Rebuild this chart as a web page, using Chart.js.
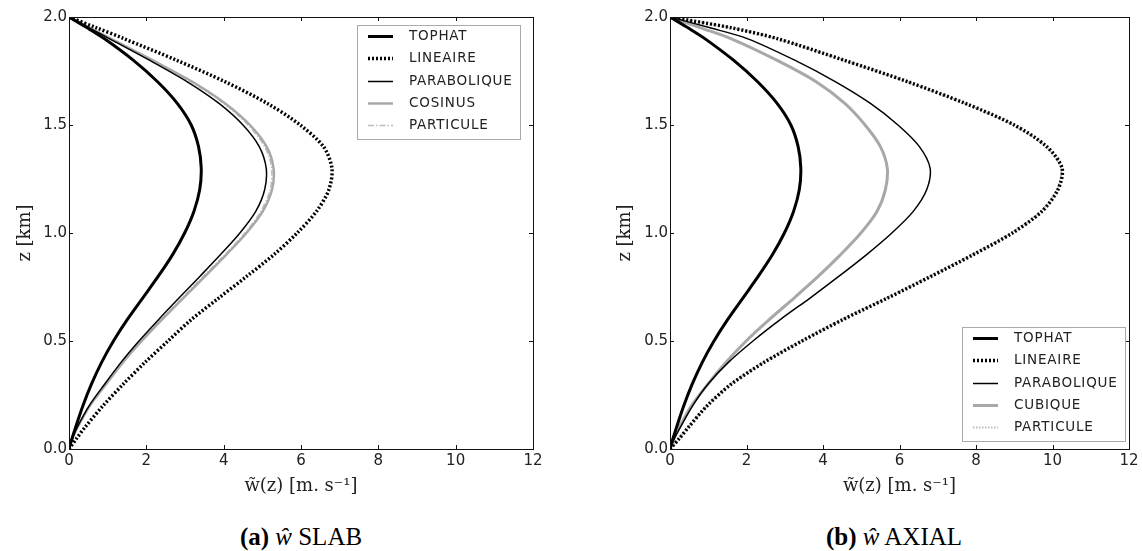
<!DOCTYPE html>
<html>
<head>
<meta charset="utf-8">
<script src="https://cdn.jsdelivr.net/npm/chart.js@4.4.1/dist/chart.umd.min.js"></script>
<style>
body { margin: 0; background: #fff; width: 1142px; height: 551px; position: relative; overflow: hidden; }
#slab { position: absolute; left: 0; top: 0; }
#axial { position: absolute; left: 600px; top: 0; }
.cap { position: absolute; top: 524px; font-family: "Liberation Serif", "DejaVu Serif", serif; font-size: 25px; line-height: 1; color: #000; transform: translateX(-50%); white-space: nowrap; }
</style>
</head>
<body>
<canvas id="slab" width="571" height="505"></canvas>
<canvas id="axial" width="542" height="505"></canvas>
<div class="cap" style="left:301px"><b>(a)</b> <i>ŵ</i> SLAB</div>
<div class="cap" style="left:894px"><b>(b)</b> <i>ŵ</i> AXIAL</div>
<script>
// altitude levels (km) shared by every profile
const zLevels = [0, 0.05, 0.1, 0.2, 0.3, 0.4, 0.5, 0.6, 0.7, 0.8, 0.9, 1.0, 1.1, 1.2, 1.3, 1.4, 1.5, 1.6, 1.7, 1.8, 1.9, 1.95, 2.0];

// (a) SLAB, w in m/s
const slabTophat      = [0, 0.08, 0.17, 0.36, 0.58, 0.84, 1.15, 1.51, 1.91, 2.31, 2.68, 2.99, 3.23, 3.38, 3.42, 3.35, 3.16, 2.80, 2.29, 1.66, 0.91, 0.47, 0];
const slabLineaire    = [0, 0.20, 0.41, 0.88, 1.40, 1.96, 2.56, 3.17, 3.88, 4.60, 5.30, 5.90, 6.40, 6.72, 6.80, 6.58, 5.98, 5.13, 4.04, 2.78, 1.42, 0.71, 0];
const slabParabolique = [0, 0.09, 0.21, 0.52, 0.92, 1.34, 1.81, 2.32, 2.85, 3.39, 3.92, 4.42, 4.83, 5.06, 5.10, 4.92, 4.50, 3.88, 3.06, 2.08, 1.04, 0.52, 0];
const slabCosinus     = [0, 0.09, 0.22, 0.54, 0.96, 1.39, 1.88, 2.41, 2.96, 3.52, 4.07, 4.59, 5.01, 5.25, 5.29, 5.11, 4.68, 4.04, 3.19, 2.16, 1.08, 0.54, 0];
const slabParticule   = [0, 0.09, 0.22, 0.53, 0.95, 1.37, 1.86, 2.38, 2.93, 3.48, 4.03, 4.55, 4.96, 5.20, 5.24, 5.06, 4.63, 4.00, 3.15, 2.13, 1.07, 0.53, 0];

// (b) AXIAL, w in m/s
const axialTophat      = [0, 0.08, 0.17, 0.36, 0.58, 0.84, 1.15, 1.51, 1.91, 2.31, 2.68, 2.99, 3.23, 3.38, 3.42, 3.35, 3.16, 2.80, 2.29, 1.66, 0.91, 0.47, 0];
const axialLineaire    = [0, 0.25, 0.48, 0.97, 1.60, 2.45, 3.45, 4.53, 5.70, 6.83, 7.93, 8.95, 9.72, 10.14, 10.25, 9.85, 9.00, 7.72, 6.22, 4.55, 2.80, 1.60, 0];
const axialParabolique = [0, 0.12, 0.27, 0.59, 0.99, 1.52, 2.17, 2.89, 3.67, 4.42, 5.14, 5.80, 6.36, 6.71, 6.80, 6.52, 5.96, 5.24, 4.33, 3.26, 2.02, 1.05, 0];
const axialCubique     = [0, 0.10, 0.24, 0.56, 0.99, 1.46, 1.99, 2.60, 3.25, 3.88, 4.46, 4.99, 5.41, 5.63, 5.68, 5.50, 5.10, 4.57, 3.82, 2.79, 1.59, 0.80, 0];
const axialParticule   = [0, 0.24, 0.47, 0.96, 1.58, 2.43, 3.43, 4.50, 5.67, 6.80, 7.90, 8.92, 9.69, 10.11, 10.22, 9.82, 8.97, 7.70, 6.20, 4.54, 2.79, 1.59, 0];

function series(label, values, color, width, dash) {
	return {
		label: label,
		data: zLevels.map(function(z, i) { return {x: values[i], y: z}; }),
		borderColor: color,
		borderWidth: width,
		borderDash: dash || [],
		borderCapStyle: 'butt',
		pointRadius: 0,
		showLine: true,
		fill: false,
		tension: 0.3
	};
}

// frame around the plot with matplotlib-style inward ticks
const frame = {
	id: 'frame',
	afterDatasetsDraw(chart) {
		const ctx = chart.ctx, a = chart.chartArea, sx = chart.scales.x, sy = chart.scales.y;
		ctx.save();
		ctx.strokeStyle = '#111';
		ctx.lineWidth = 1;
		ctx.strokeRect(Math.round(a.left) + 0.5, Math.round(a.top) + 0.5, Math.round(a.right - a.left), Math.round(a.bottom - a.top));
		ctx.beginPath();
		sx.ticks.forEach(function(t) {
			const p = Math.round(sx.getPixelForValue(t.value)) + 0.5;
			ctx.moveTo(p, a.bottom); ctx.lineTo(p, a.bottom - 4);
			ctx.moveTo(p, a.top); ctx.lineTo(p, a.top + 4);
		});
		sy.ticks.forEach(function(t) {
			const p = Math.round(sy.getPixelForValue(t.value)) + 0.5;
			ctx.moveTo(a.left, p); ctx.lineTo(a.left + 4, p);
			ctx.moveTo(a.right, p); ctx.lineTo(a.right - 4, p);
		});
		ctx.stroke();
		ctx.restore();
	}
};

// legend box drawn inside the plot
const boxLegend = {
	id: 'boxLegend',
	afterDraw(chart, args, opts) {
		const ctx = chart.ctx;
		const sets = chart.data.datasets;
		const x = opts.x, y = opts.y, w = 163, h = 114, row = 22.3;
		ctx.save();
		ctx.fillStyle = '#fff';
		ctx.strokeStyle = '#aaa';
		ctx.lineWidth = 1;
		ctx.fillRect(x, y, w, h);
		ctx.strokeRect(x + 0.5, y + 0.5, w, h);
		ctx.font = '13.5px "DejaVu Sans"';
		ctx.letterSpacing = '0.8px';
		ctx.textBaseline = 'middle';
		sets.forEach(function(ds, i) {
			const ly = Math.round(y + 11 + i * row) + 0.5;
			ctx.beginPath();
			ctx.strokeStyle = ds.borderColor;
			ctx.lineWidth = ds.borderWidth;
			ctx.setLineDash(ds.borderDash);
			ctx.moveTo(x + 11, ly);
			ctx.lineTo(x + 36, ly);
			ctx.stroke();
			ctx.setLineDash([]);
			ctx.fillStyle = '#222';
			ctx.fillText(ds.label, x + 52, ly);
		});
		ctx.restore();
	}
};

function makeChart(id, datasets, legendX, legendY, axisWidth, padRight) {
	return new Chart(document.getElementById(id), {
		type: 'scatter',
		data: {datasets: datasets},
		plugins: [frame, boxLegend],
		options: {
			responsive: false,
			animation: false,
			layout: {padding: {top: 17, right: padRight, bottom: 0, left: 0}},
			plugins: {
				legend: {display: false},
				tooltip: {enabled: false},
				boxLegend: {x: legendX, y: legendY}
			},
			scales: {
				x: {
					type: 'linear', min: 0, max: 12,
					ticks: {stepSize: 2, padding: 3, maxRotation: 0, color: '#222', font: {family: 'DejaVu Sans', size: 15}},
					grid: {display: false, drawTicks: false},
					border: {display: false},
					title: {display: true, text: 'w̃(z) [m. s⁻¹]', color: '#222', font: {family: 'DejaVu Serif', size: 18}, padding: {top: 8, bottom: 8}},
					afterFit: function(s) { s.height = 56; }
				},
				y: {
					type: 'linear', min: 0, max: 2,
					ticks: {stepSize: 0.5, padding: 2, color: '#222', font: {family: 'DejaVu Sans', size: 15},
						callback: function(v) { return v.toFixed(1); }},
					grid: {display: false, drawTicks: false},
					border: {display: false},
					title: {display: true, text: 'z [km]', color: '#222', font: {family: 'DejaVu Serif', size: 18}, padding: {top: 15, bottom: 15}},
					afterFit: function(s) { s.width = axisWidth; }
				}
			}
		}
	});
}

makeChart('slab', [
	series('TOPHAT', slabTophat, '#000', 3),
	series('LINEAIRE', slabLineaire, '#000', 3.5, [2, 2]),
	series('PARABOLIQUE', slabParabolique, '#000', 1.5),
	series('COSINUS', slabCosinus, '#a8a8a8', 2.5),
	series('PARTICULE', slabParticule, '#bbb', 1.5, [6, 2, 1.5, 2])
], 357, 25, 69, 38);

makeChart('axial', [
	series('TOPHAT', axialTophat, '#000', 3),
	series('LINEAIRE', axialLineaire, '#000', 3.5, [2, 2]),
	series('PARABOLIQUE', axialParabolique, '#000', 1.5),
	series('CUBIQUE', axialCubique, '#a8a8a8', 3),
	series('PARTICULE', axialParticule, '#bbb', 2, [1.5, 1.5])
], 362, 327, 70, 13);
</script>
</body>
</html>
